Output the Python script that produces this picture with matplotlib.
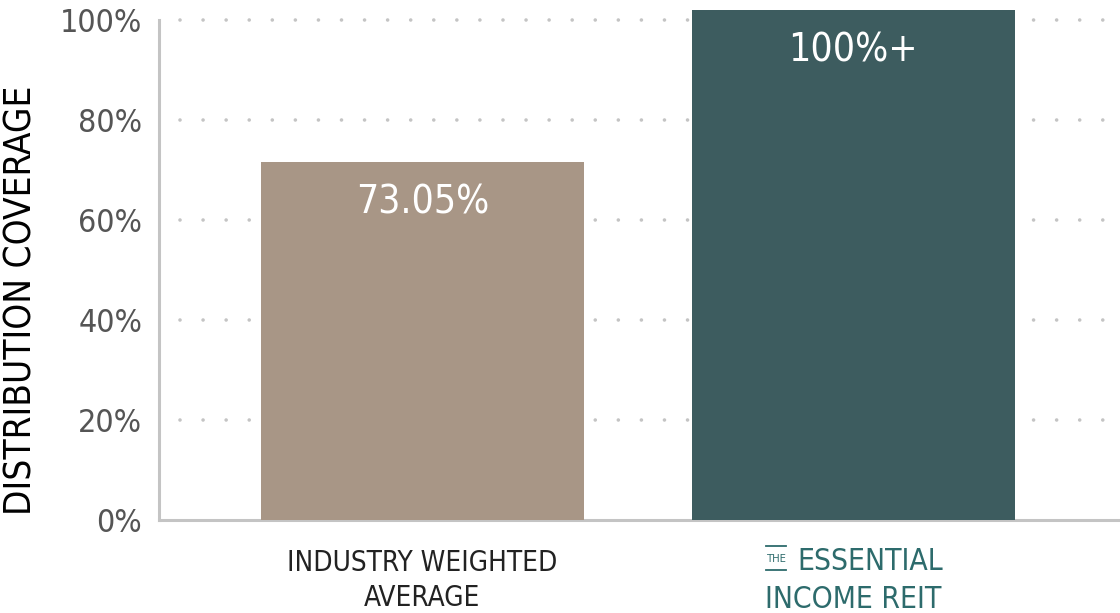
import matplotlib
matplotlib.use("Agg")
import matplotlib.pyplot as plt
from matplotlib import font_manager
from matplotlib.lines import Line2D

categories = [["INDUSTRY WEIGHTED", "AVERAGE"], ["ESSENTIAL", "INCOME REIT"]]
values = [71.6, 102.0]
bar_labels = ["73.05%", "100%+"]
yticks = [0, 20, 40, 60, 80, 100]
ytick_labels = ["0%", "20%", "40%", "60%", "80%", "100%"]

plt.rcParams["lines.scale_dashes"] = False

# look for a narrow sans font, the reference uses a condensed face
narrow = None
for f in font_manager.fontManager.ttflist:
    nm = f.name.lower()
    if ("narrow" in nm or "condensed" in nm or "condensed" in str(f.stretch)) \
            and f.style == "normal" and f.weight in (400, "normal", "regular") \
            and "mono" not in nm and "serif" not in nm:
        narrow = f.fname
        break
if narrow:
    fp = lambda size, **kw: font_manager.FontProperties(fname=narrow, size=size, **kw)
else:
    fp = lambda size, **kw: font_manager.FontProperties(family="DejaVu Sans", size=size, **kw)

bar_colors = ["#a89686", "#3d5c5f"]
teal = "#2d6b6c"

fig = plt.figure(figsize=(11.2, 6.13), dpi=100)
ax = fig.add_axes([159 / 1120, 93 / 613, 1 - 159 / 1120, 1 - 93 / 613])

x = list(range(len(values)))
ax.bar(x, values, width=0.75, color=bar_colors, zorder=3)

# dotted gridlines behind the bars
for t in yticks[1:]:
    ax.axhline(t, xmin=0.022, color="#c4c4c4", linewidth=2.6,
               linestyle=(0, (0.01, 16.6)), dash_capstyle="round", zorder=1)

for xi, v, lab in zip(x, values, bar_labels):
    ax.text(xi, v - 8, lab, ha="center", va="center", color="white",
            fontproperties=fp(28), zorder=4)

ax.set_xlim(-0.612, 1.62)
ax.set_ylim(0, 104)
ax.set_yticks(yticks)
ax.set_yticklabels(ytick_labels, fontproperties=fp(23))
ax.tick_params(axis="y", length=0, pad=12, labelcolor="#555555")
ax.set_xticks([])

for s in ["top", "right"]:
    ax.spines[s].set_visible(False)
for s in ["left", "bottom"]:
    ax.spines[s].set_color("#c4c4c4")
    ax.spines[s].set_linewidth(2.2)
ax.spines["left"].set_bounds(0, 100)

ax.set_ylabel("DISTRIBUTION COVERAGE", fontproperties=fp(26.5), color="black")
ax.yaxis.set_label_coords(-0.124, 0.423)

# category labels under the bars
ax.text(0, -8.6, categories[0][0], ha="center", va="center",
        fontproperties=fp(20), color="#222222", clip_on=False)
ax.text(0, -15.6, categories[0][1], ha="center", va="center",
        fontproperties=fp(20), color="#222222", clip_on=False)
ax.text(0.870, -8.2, categories[1][0], ha="left", va="center",
        fontproperties=fp(21.5), color=teal, clip_on=False)
ax.text(1, -16.0, categories[1][1], ha="center", va="center",
        fontproperties=fp(21.5), color=teal, clip_on=False)
ax.text(0.822, -7.8, "THE", ha="center", va="center",
        fontproperties=fp(8, weight="bold"), color=teal, clip_on=False)
fig.add_artist(Line2D([766 / 1120, 786 / 1120], [1 - 546 / 613, 1 - 546 / 613],
                      color=teal, linewidth=1.3))
fig.add_artist(Line2D([766 / 1120, 786 / 1120], [1 - 570 / 613, 1 - 570 / 613],
                      color=teal, linewidth=1.3))

fig.savefig("out.png", dpi=100)
